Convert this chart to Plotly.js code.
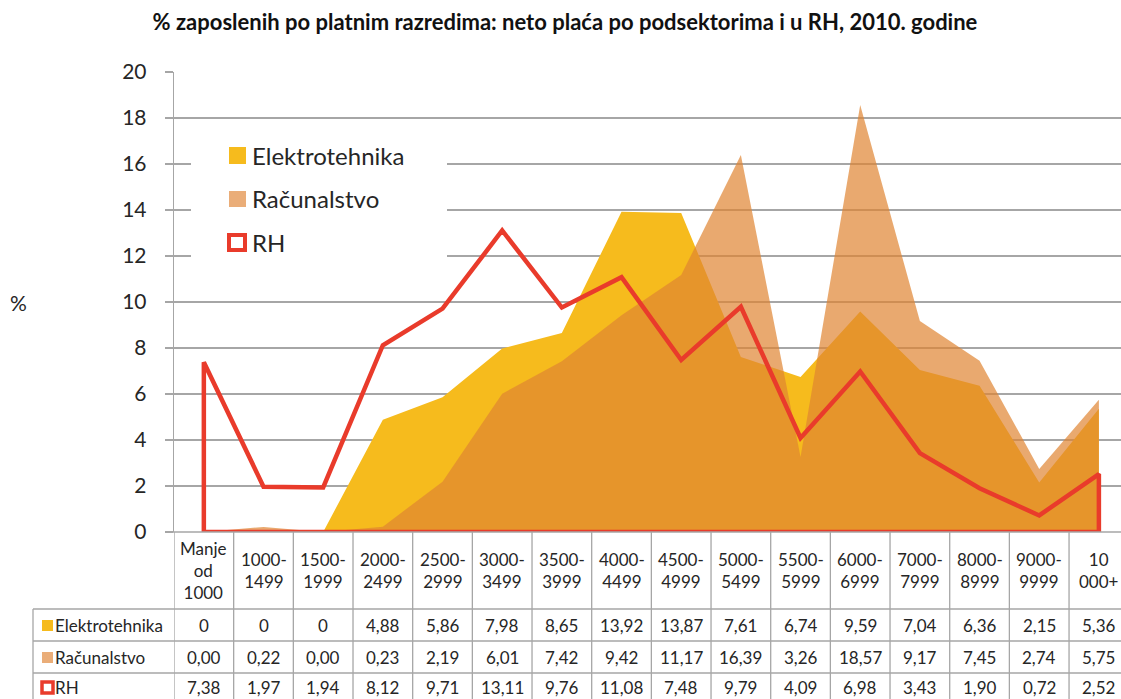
<!DOCTYPE html>
<html>
<head>
<meta charset="utf-8">
<script src="https://cdn.plot.ly/plotly-3.0.1.min.js"></script>
<style>html,body{margin:0;padding:0;background:#fff;}#chart{width:1121px;height:699px;}</style>
</head>
<body>
<div id="chart"></div>
<script>
// ---- data ----
var categories = ["Manje<br>od<br>1000", "1000-<br>1499", "1500-<br>1999", "2000-<br>2499", "2500-<br>2999", "3000-<br>3499", "3500-<br>3999", "4000-<br>4499", "4500-<br>4999", "5000-<br>5499", "5500-<br>5999", "6000-<br>6999", "7000-<br>7999", "8000-<br>8999", "9000-<br>9999", "10<br>000+"];
var elektrotehnika = [0, 0, 0, 4.88, 5.86, 7.98, 8.65, 13.92, 13.87, 7.61, 6.74, 9.59, 7.04, 6.36, 2.15, 5.36];
var racunalstvo = [0.00, 0.22, 0.00, 0.23, 2.19, 6.01, 7.42, 9.42, 11.17, 16.39, 3.26, 18.57, 9.17, 7.45, 2.74, 5.75];
var rh = [7.38, 1.97, 1.94, 8.12, 9.71, 13.11, 9.76, 11.08, 7.48, 9.79, 4.09, 6.98, 3.43, 1.90, 0.72, 2.52];
var seriesNames = ["Elektrotehnika", "Računalstvo", "RH"];
var yTicks = [0, 2, 4, 6, 8, 10, 12, 14, 16, 18, 20];

// ---- styles ----
var FONT = "Lato, 'Open Sans', sans-serif";
var TXT = "#262626";
var GRID = "#a6a6a6";
var cYellow = "#F6BB1D";
var cSalmon = "rgba(224,133,50,0.70)";
var cSalmonSolid = "#EAAD78";
var cRed = "#E93B2B";

var idx = categories.map(function (_, i) { return i; });
var n = idx.length;

// closed outline for RH
var rhX = [0].concat(idx, [n - 1, 0]);
var rhY = [0].concat(rh, [0, 0]);

var traces = [
  { x: idx, y: elektrotehnika, type: "scatter", mode: "lines", fill: "tozeroy",
    fillcolor: cYellow, line: { width: 0, color: cYellow }, name: seriesNames[0], hoverinfo: "y" },
  { x: idx, y: racunalstvo, type: "scatter", mode: "lines", fill: "tozeroy",
    fillcolor: cSalmon, line: { width: 0, color: cSalmon }, name: seriesNames[1], hoverinfo: "y" },
  { x: rhX, y: rhY, type: "scatter", mode: "lines",
    line: { width: 4.5, color: cRed }, name: seriesNames[2], hoverinfo: "y" }
];

// pixel helpers
var L = 174, T = 72, B = 532, W = 1121, H = 699;
var plotH = B - T;
function py(p) { return (B - p) / plotH; }          // pixel y -> paper y
function px(p) { return (p - L) / (W - L); }        // pixel x -> paper x

var shapes = [];
var annotations = [];

// table grid
var lineStyle = { color: GRID, width: 1.3 };
for (var k = 0; k < n; k++) {
  shapes.push({ type: "line", xref: "x", yref: "paper", x0: k - 0.5, x1: k - 0.5, y0: 0, y1: py(H + 2), line: lineStyle, layer: "above" });
}
shapes.push({ type: "line", xref: "paper", yref: "paper", x0: px(33), x1: px(33), y0: py(609), y1: py(H + 2), line: lineStyle });
[609, 641, 673].forEach(function (p) {
  shapes.push({ type: "line", xref: "paper", yref: "paper", x0: px(33), x1: 1, y0: py(p), y1: py(p), line: lineStyle });
});
shapes.push({ type: "line", xref: "paper", yref: "paper", x0: px(166), x1: 1, y0: 0, y1: 0, line: lineStyle });

var TFS = 17;
// header labels
categories.forEach(function (c, i) {
  annotations.push({ xref: "x", yref: "paper", x: i, y: py(570.5), text: c, showarrow: false,
    xanchor: "center", yanchor: "middle", font: { family: FONT, size: TFS, color: TXT } });
});

function fmt(v, keepZero) {
  if (v === 0 && keepZero) return "0";
  return v.toFixed(2).replace(".", ",");
}
var rowsData = [elektrotehnika, racunalstvo, rh];
var rowY = [625, 657, 687];
rowsData.forEach(function (arr, r) {
  arr.forEach(function (v, i) {
    annotations.push({ xref: "x", yref: "paper", x: i, y: py(rowY[r]), text: fmt(v, r === 0), showarrow: false,
      xanchor: "center", yanchor: "middle", font: { family: FONT, size: TFS, color: TXT } });
  });
  annotations.push({ xref: "paper", yref: "paper", x: px(53), y: py(rowY[r]), text: seriesNames[r], showarrow: false,
    xanchor: "left", yanchor: "middle", font: { family: FONT, size: TFS, color: TXT } });
});
// table row markers
shapes.push({ type: "rect", xref: "paper", yref: "paper", x0: px(42), x1: px(53), y0: py(631), y1: py(620), fillcolor: cYellow, line: { width: 0 } });
shapes.push({ type: "rect", xref: "paper", yref: "paper", x0: px(42), x1: px(53), y0: py(663), y1: py(652), fillcolor: cSalmonSolid, line: { width: 0 } });
shapes.push({ type: "rect", xref: "paper", yref: "paper", x0: px(42), x1: px(53), y0: py(693), y1: py(682), fillcolor: "#fff", line: { width: 3.5, color: cRed } });

// legend (inside plot)
shapes.push({ type: "rect", xref: "paper", yref: "paper", x0: px(191), x1: px(447), y0: py(275), y1: py(125), fillcolor: "#fff", line: { width: 0 }, layer: "above" });
shapes.push({ type: "rect", xref: "paper", yref: "paper", x0: px(229), x1: px(246), y0: py(164), y1: py(147), fillcolor: cYellow, line: { width: 0 }, layer: "above" });
shapes.push({ type: "rect", xref: "paper", yref: "paper", x0: px(229), x1: px(246), y0: py(207), y1: py(191), fillcolor: cSalmonSolid, line: { width: 0 }, layer: "above" });
shapes.push({ type: "rect", xref: "paper", yref: "paper", x0: px(229), x1: px(245), y0: py(250), y1: py(235), fillcolor: "#fff", line: { width: 4, color: cRed }, layer: "above" });
var legY = [155, 198, 242];
seriesNames.forEach(function (s, i) {
  annotations.push({ xref: "paper", yref: "paper", x: px(250), y: py(legY[i]), text: s, showarrow: false,
    xanchor: "left", yanchor: "middle", font: { family: FONT, size: 24, color: TXT } });
});

// y-axis title
annotations.push({ xref: "paper", yref: "paper", x: px(18), y: py(302), text: "%", showarrow: false,
  xanchor: "center", yanchor: "middle", font: { family: FONT, size: 21, color: TXT } });

var layout = {
  width: W, height: H,
  margin: { l: L, r: 0, t: T, b: H - B, pad: 0 },
  paper_bgcolor: "#fff", plot_bgcolor: "#fff",
  showlegend: false,
  title: { text: "<b>% zaposlenih po platnim razredima: neto plaća po podsektorima i u RH, 2010. godine</b>",
    x: 565 / W, xanchor: "center", xref: "container", y: 1 - 22 / H, yanchor: "middle", yref: "container",
    font: { family: FONT, size: 22, color: "#111" } },
  xaxis: { range: [-0.5, -0.5 + (W - L) / 59.67], showgrid: false, zeroline: false, showticklabels: false,
    ticks: "", showline: false, fixedrange: true },
  yaxis: { range: [0, 20], tickvals: yTicks, ticktext: yTicks.map(String), showgrid: true, gridcolor: GRID, gridwidth: 1.3,
    zeroline: false, showline: true, linecolor: GRID, linewidth: 1.3, ticks: "outside", ticklen: 8, tickcolor: GRID, tickwidth: 1.3,
    ticklabelstandoff: 14, tickfont: { family: FONT, size: 21, color: TXT }, fixedrange: true },
  shapes: shapes,
  annotations: annotations
};

Plotly.newPlot("chart", traces, layout, { displayModeBar: false, staticPlot: true });
</script>
</body>
</html>
